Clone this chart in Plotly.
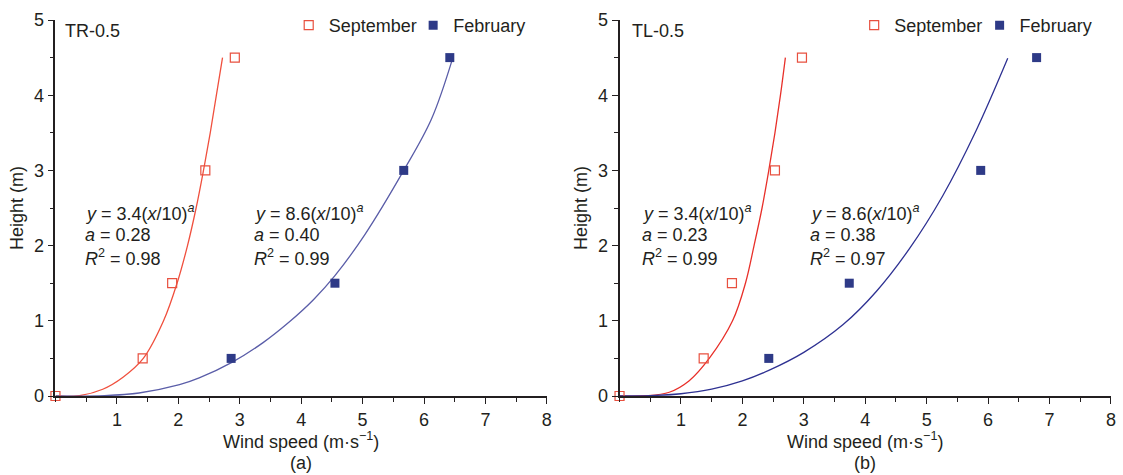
import plotly.graph_objects as go
from plotly.subplots import make_subplots

# ---------------- data ----------------
HEIGHTS_SEP = [0, 0.5, 1.5, 3, 4.5]
HEIGHTS_FEB = [0.5, 1.5, 3, 4.5]

TR_SEP = [0, 1.42, 1.90, 2.44, 2.92]
TR_FEB = [2.86, 4.55, 5.67, 6.42]
TL_SEP = [0, 1.37, 1.83, 2.53, 2.97]
TL_FEB = [2.43, 3.74, 5.88, 6.79]

# fitted curves as drawn in the reference (wind speed, height)
TR_SEP_FIT_U = [0, 0.39, 0.77, 1.10, 1.43, 1.76, 1.98, 2.15, 2.29, 2.41, 2.52, 2.62, 2.72]
TR_SEP_FIT_H = [0, 0.005, 0.09, 0.25, 0.5, 1.0, 1.5, 2.0, 2.5, 3.0, 3.5, 4.0, 4.5]
TR_FEB_FIT_U = [0, 0.8, 1.36, 2.02, 2.34, 2.88, 3.38, 3.80, 4.20, 4.55, 5.04, 5.67, 6.12, 6.47]
TR_FEB_FIT_H = [0, 0.005, 0.04, 0.15, 0.24, 0.45, 0.71, 0.98, 1.28, 1.60, 2.15, 3.0, 3.68, 4.5]
TL_SEP_FIT_U = [0, 0.42, 0.81, 1.13, 1.46, 1.84, 2.05, 2.19, 2.32, 2.43, 2.53, 2.62, 2.70]
TL_SEP_FIT_H = [0, 0.003, 0.05, 0.2, 0.5, 1.0, 1.5, 2.0, 2.5, 3.0, 3.5, 4.0, 4.5]
TL_FEB_FIT_U = [0, 0.5, 1.0, 1.5, 2.0, 2.43, 3.0, 3.64, 4.18, 4.72, 5.26, 5.80, 6.32]
TL_FEB_FIT_H = [0, 0.005, 0.03, 0.09, 0.2, 0.34, 0.58, 0.95, 1.39, 1.96, 2.66, 3.52, 4.49]

PANEL_NAMES = ["TR-0.5", "TL-0.5"]
PANEL_TAGS = ["(a)", "(b)"]
SEP_COEF = ["3.4", "3.4"]
FEB_COEF = ["8.6", "8.6"]
SEP_A = ["0.28", "0.23"]
FEB_A = ["0.40", "0.38"]
SEP_R2 = ["0.98", "0.99"]
FEB_R2 = ["0.99", "0.97"]
X_TICKS = [1, 2, 3, 4, 5, 6, 7, 8]
Y_TICKS = [0, 1, 2, 3, 4, 5]

# ---------------- style ----------------
FONT = "Arial, Liberation Sans, sans-serif"
FS = 18
INK = "#231F20"
RED_MK = "#E8503F"
BLUE_MK = "#2E3A87"
RED_LN = ["#F0503E", "#E8302A"]
BLUE_LN = ["#5A5DA8", "#2E3192"]
W = 1123
H = 475

fig = make_subplots(rows=1, cols=2)

panels = [
    (TR_SEP, TR_FEB, TR_SEP_FIT_U, TR_SEP_FIT_H, TR_FEB_FIT_U, TR_FEB_FIT_H),
    (TL_SEP, TL_FEB, TL_SEP_FIT_U, TL_SEP_FIT_H, TL_FEB_FIT_U, TL_FEB_FIT_H),
]
LEGENDS = [("legend", "legend2"), ("legend3", "legend4")]

for i, (sep, feb, su, sh, fu, fh) in enumerate(panels):
    col = i + 1
    fig.add_trace(go.Scatter(x=su, y=sh, mode="lines",
                             line=dict(color=RED_LN[i], width=1.3, shape="spline", smoothing=1.0),
                             showlegend=False, hoverinfo="skip"), row=1, col=col)
    fig.add_trace(go.Scatter(x=fu, y=fh, mode="lines",
                             line=dict(color=BLUE_LN[i], width=1.3, shape="spline", smoothing=1.0),
                             showlegend=False, hoverinfo="skip"), row=1, col=col)
    fig.add_trace(go.Scatter(x=sep, y=HEIGHTS_SEP, mode="markers", name="September", legend=LEGENDS[i][0],
                             marker=dict(symbol="square-open", size=9, color=RED_MK, line=dict(width=1.2)),
                             cliponaxis=False), row=1, col=col)
    fig.add_trace(go.Scatter(x=feb, y=HEIGHTS_FEB, mode="markers", name="February", legend=LEGENDS[i][1],
                             marker=dict(symbol="square", size=9, color=BLUE_MK),
                             cliponaxis=False), row=1, col=col)

# plot area positions in pixels
LEFT_X0, RIGHT_X0, PX_PER_U = 55.7, 622.3, 61.7
TOP, BOTTOM = 19.5, 396.5
PX_PER_H = (BOTTOM - TOP) / 5

axis_common = dict(showline=True, linecolor=INK, linewidth=1.8, ticks="outside", ticklen=6, tickwidth=1.4,
                   tickcolor=INK, showgrid=False, zeroline=False, mirror=False,
                   tickfont=dict(family=FONT, size=FS, color=INK),
                   minor=dict(dtick=0.5, ticks="outside", ticklen=4, tickwidth=1.2, tickcolor=INK, showgrid=False))

for i, x0 in enumerate([LEFT_X0, RIGHT_X0]):
    d0 = x0 / W
    d1 = (x0 + 8 * PX_PER_U) / W
    fig.update_xaxes(axis_common, range=[0, 8], tickvals=X_TICKS, domain=[d0, d1],
                     title=dict(text="Wind speed (m·s<sup>−1</sup>)", font=dict(family=FONT, size=FS, color=INK), standoff=0),
                     row=1, col=i + 1)
    fig.update_yaxes(axis_common, range=[0, 5], tickvals=Y_TICKS, domain=[0, 1],
                     title=dict(text="Height (m)", font=dict(family=FONT, size=FS, color=INK), standoff=6),
                     row=1, col=i + 1)

annotations = []
for i in range(2):
    xr = "x" if i == 0 else "x2"
    yr = "y" if i == 0 else "y2"
    x0 = [LEFT_X0, RIGHT_X0][i]
    annotations.append(dict(text=PANEL_NAMES[i], x=[63.3, 632.7][i] / W, y=(BOTTOM - 31) / (BOTTOM - TOP),
                            xref="paper", yref="paper", xanchor="left", yanchor="middle", showarrow=False,
                            font=dict(family=FONT, size=FS, color=INK)))
    annotations.append(dict(text=PANEL_TAGS[i], x=(x0 + 4 * PX_PER_U) / W, y=-(464 - BOTTOM) / (BOTTOM - TOP),
                            xref="paper", yref="paper", xanchor="center", yanchor="middle", showarrow=False,
                            font=dict(family=FONT, size=FS, color=INK)))
    eq_x = [[83, 253], [643, 811.5]][i]
    eq_lines = [
        [f"<i>y</i> = {SEP_COEF[i]}(<i>x</i>/10)<sup><i>a</i></sup>", f"<i>a</i> = {SEP_A[i]}", f"<i>R</i><sup>2</sup> = {SEP_R2[i]}"],
        [f"<i>y</i> = {FEB_COEF[i]}(<i>x</i>/10)<sup><i>a</i></sup>", f"<i>a</i> = {FEB_A[i]}", f"<i>R</i><sup>2</sup> = {FEB_R2[i]}"],
    ]
    for k in range(2):
        for j, ypx in enumerate([213, 235.5, 257.5]):
            annotations.append(dict(text=eq_lines[k][j], x=(eq_x[k] - x0) / PX_PER_U, y=(BOTTOM - ypx) / PX_PER_H,
                                    xref=xr, yref=yr, xanchor="left", yanchor="middle", showarrow=False,
                                    font=dict(family=FONT, size=FS, color=INK)))

legend_common = dict(orientation="h", yanchor="middle", xanchor="left", bgcolor="rgba(0,0,0,0)",
                     font=dict(family=FONT, size=FS, color=INK), itemwidth=30, tracegroupgap=0)
LEG_Y = (BOTTOM - 25) / (BOTTOM - TOP)
TEXT_OFFSET = 39  # legend left edge to item text start

fig.update_layout(
    width=W, height=H,
    margin=dict(l=0, r=0, t=TOP, b=H - BOTTOM, pad=0),
    paper_bgcolor="white", plot_bgcolor="white",
    font=dict(family=FONT, size=FS, color=INK),
    annotations=annotations,
    legend=dict(legend_common, x=(329 - TEXT_OFFSET) / W, y=LEG_Y),
    legend2=dict(legend_common, x=(454 - TEXT_OFFSET) / W, y=LEG_Y),
    legend3=dict(legend_common, x=(897 - TEXT_OFFSET) / W, y=LEG_Y),
    legend4=dict(legend_common, x=(1023 - TEXT_OFFSET) / W, y=LEG_Y),
)

fig.write_html("out.html")
